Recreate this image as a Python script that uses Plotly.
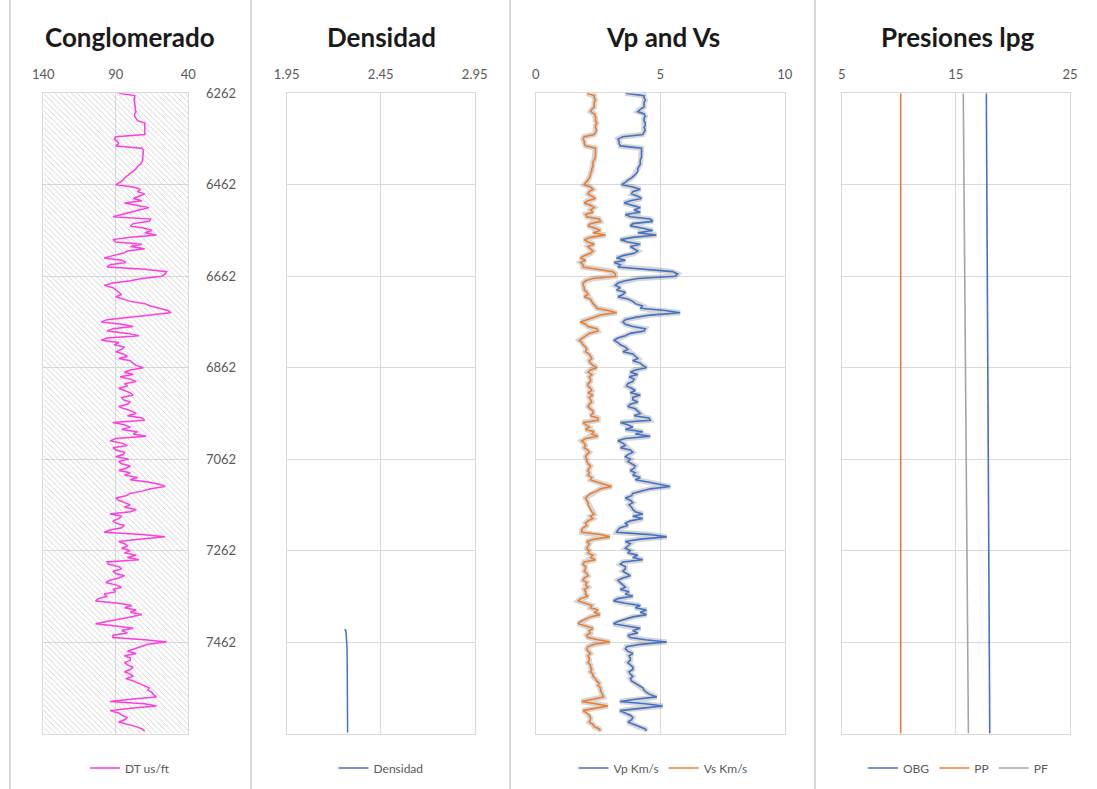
import plotly.graph_objects as go

# ---------------- data ----------------
DEPTH_RANGE = [6262, 7662]
DEPTH_TICKS = [6262, 6462, 6662, 6862, 7062, 7262, 7462]

DEPTH = list(range(6262, 7658, 5))   # 5-ft sampling, 6262 .. 7657

DT = [88, 77, 77, 77.5, 77, 77, 77, 76.5, 76, 77, 77, 76, 75, 70, 70, 70, 70, 70.5, 70, 90,
      91, 89, 88, 90, 72, 71, 71, 71, 71, 71.5, 72, 73, 75, 76, 78, 80, 82, 84, 85, 88,
      90, 78, 73, 75, 70, 74, 78, 72, 84, 76, 67, 74, 80, 88, 92, 66, 67, 78, 80, 70,
      65, 70, 62, 80, 92, 90, 72, 80, 70, 82, 85, 92, 98, 86, 83, 94, 96, 70, 55, 56,
      58, 72, 80, 92, 98, 92, 90, 88, 86, 90, 84, 80, 70, 66, 60, 54, 52, 68, 80, 96,
      100, 86, 78, 92, 96, 82, 74, 96, 100, 88, 91, 84, 86, 90, 85, 82, 88, 80, 78, 76,
      71, 80, 84, 78, 87, 80, 76, 84, 82, 88, 84, 80, 78, 86, 85, 80, 82, 88, 84, 79,
      76, 82, 72, 70, 92, 84, 80, 86, 75, 78, 69, 90, 94, 86, 82, 92, 90, 84, 85, 90,
      81, 88, 86, 80, 83, 88, 80, 84, 75, 80, 68, 60, 56, 66, 72, 80, 83, 90, 88, 84,
      80, 84, 76, 80, 94, 86, 88, 92, 90, 84, 86, 94, 98, 72, 56, 74, 88, 84, 82, 86,
      80, 84, 76, 82, 74, 96, 95, 88, 86, 92, 90, 84, 88, 94, 97, 90, 86, 92, 90, 98,
      96, 102, 104, 88, 79, 84, 76, 80, 72, 80, 88, 96, 104, 90, 78, 86, 82, 92, 92, 70,
      55, 68, 73, 78, 82, 76, 84, 80, 80, 84, 82, 78, 80, 84, 80, 78, 83, 78, 74, 70,
      67, 68, 65, 64, 62, 80, 94, 70, 62, 80, 94, 88, 86, 82, 84, 88, 82, 76, 72, 70]

VP = [3.6, 4.35, 4.35, 4.4, 4.35, 4.35, 4.35, 4.2, 4.1, 4.35, 4.4, 4.35, 4.35, 4.4, 4.4, 4.35, 4.4, 4.35, 4.3, 3.5,
      3.3, 3.35, 3.35, 3.4, 4.25, 4.25, 4.25, 4.25, 4.25, 4.2, 4.2, 4.2, 4.15, 4.1, 4.1, 4.05, 3.95, 3.85, 3.7, 3.6,
      3.45, 3.9, 4.2, 3.9, 3.85, 4.1, 4.25, 3.8, 3.55, 3.9, 4.2, 3.95, 4.2, 3.6, 3.8, 4.6, 4.7, 3.9, 3.8, 4.3,
      4.7, 4.1, 4.85, 3.9, 3.4, 3.7, 4.2, 3.8, 3.95, 4.1, 3.95, 3.5, 3.25, 3.6, 3.15, 3.4, 3.3, 4.6, 5.5, 5.7,
      5.6, 4.1, 3.6, 3.3, 3.2, 3.4, 3.25, 3.6, 3.5, 3.3, 3.7, 3.9, 4.0, 4.3, 4.2, 5.2, 5.8, 4.6, 4.0, 3.6,
      3.5, 3.6, 3.9, 4.4, 4.35, 3.8, 3.6, 3.3, 3.15, 3.3, 3.4, 3.6, 3.7, 3.5, 3.9, 4.0, 4.1, 3.9, 4.2, 4.3,
      4.45, 4.0, 3.8, 4.1, 3.75, 3.95, 3.9, 3.7, 3.65, 3.85, 4.0, 3.8, 4.2, 3.9, 3.9, 4.1, 3.8, 3.7, 4.0, 4.1,
      4.2, 3.95, 4.55, 4.6, 3.4, 3.7, 3.9, 3.6, 4.3, 4.0, 4.6, 3.6, 3.3, 3.5, 3.6, 3.4, 3.8, 3.9, 3.7, 3.6,
      3.8, 3.7, 3.85, 4.0, 3.95, 3.8, 4.0, 3.9, 4.2, 4.0, 4.5, 5.0, 5.4, 4.6, 4.3, 3.9, 3.85, 3.6, 3.8, 3.9,
      3.75, 3.85, 3.9, 4.0, 4.3, 3.9, 4.3, 3.8, 3.6, 3.7, 3.4, 3.3, 3.25, 4.6, 5.26, 4.2, 3.6, 3.8, 3.7, 3.6,
      3.8, 3.7, 4.1, 3.9, 4.3, 3.5, 3.4, 3.6, 3.6, 3.5, 3.65, 3.8, 3.5, 3.3, 3.4, 3.5, 3.6, 3.4, 3.75, 3.6,
      3.9, 3.3, 3.12, 3.6, 4.2, 4.0, 4.45, 4.2, 4.45, 3.9, 3.6, 3.3, 3.12, 3.6, 4.2, 3.9, 4.1, 3.7, 3.8, 4.4,
      5.26, 4.2, 3.65, 3.6, 3.7, 3.9, 3.75, 3.8, 3.8, 3.7, 3.8, 3.9, 3.9, 3.75, 3.8, 3.9, 3.8, 3.85, 4.0, 4.15,
      4.3, 4.35, 4.45, 4.6, 4.86, 4.0, 3.38, 4.4, 5.1, 4.2, 3.38, 3.6, 3.8, 3.9, 3.85, 3.7, 3.93, 4.1, 4.4, 4.45]

VS = [2.05, 2.35, 2.35, 2.4, 2.35, 2.35, 2.35, 2.25, 2.2, 2.35, 2.4, 2.4, 2.4, 2.45, 2.4, 2.4, 2.45, 2.4, 2.35, 1.95,
      1.9, 1.95, 1.95, 2.0, 2.4, 2.4, 2.4, 2.4, 2.4, 2.35, 2.3, 2.3, 2.3, 2.25, 2.25, 2.2, 2.2, 2.15, 2.1, 2.0,
      1.95, 2.2, 2.3, 2.15, 2.1, 2.25, 2.4, 2.1, 1.95, 2.2, 2.35, 2.2, 2.3, 2.0, 2.05, 2.55, 2.6, 2.2, 2.1, 2.4,
      2.6, 2.3, 2.8, 2.2, 1.95, 2.1, 2.35, 2.1, 2.2, 2.3, 2.2, 1.95, 1.8, 2.0, 1.8, 1.9, 1.9, 2.6, 3.1, 3.2,
      3.2, 2.3, 2.0, 1.9, 1.9, 1.95, 1.95, 2.05, 2.1, 1.95, 2.2, 2.25, 2.3, 2.4, 2.45, 2.9, 3.25, 2.6, 2.3, 2.0,
      1.8, 2.0, 2.1, 2.45, 2.5, 2.15, 2.0, 1.85, 1.75, 1.85, 1.9, 2.0, 2.05, 2.0, 2.15, 2.2, 2.25, 2.15, 2.2, 2.3,
      2.45, 2.2, 2.1, 2.25, 2.15, 2.2, 2.2, 2.1, 2.1, 2.2, 2.25, 2.1, 2.3, 2.15, 2.2, 2.25, 2.15, 2.1, 2.2, 2.3,
      2.3, 2.2, 2.5, 2.5, 1.9, 2.05, 2.15, 2.0, 2.35, 2.25, 2.5, 2.0, 1.85, 1.95, 2.0, 1.95, 2.1, 2.15, 2.05, 2.0,
      2.05, 2.05, 2.1, 2.2, 2.15, 2.1, 2.15, 2.1, 2.25, 2.2, 2.45, 2.8, 3.05, 2.6, 2.45, 2.2, 2.1, 2.0, 2.05, 2.1,
      2.1, 2.15, 2.2, 2.25, 2.35, 2.2, 2.3, 2.1, 2.0, 2.05, 1.9, 1.85, 1.85, 2.6, 2.98, 2.35, 2.05, 2.15, 2.1, 2.05,
      2.15, 2.1, 2.3, 2.2, 2.4, 1.95, 1.9, 2.0, 2.0, 1.95, 2.05, 2.1, 1.95, 1.9, 2.05, 2.0, 2.1, 1.95, 2.0, 2.0,
      2.1, 1.8, 1.71, 2.0, 2.25, 2.2, 2.5, 2.35, 2.58, 2.2, 2.0, 1.8, 1.71, 2.0, 2.3, 2.15, 2.2, 2.05, 2.1, 2.5,
      2.98, 2.35, 2.1, 2.05, 2.1, 2.2, 2.1, 2.15, 2.15, 2.1, 2.2, 2.2, 2.25, 2.2, 2.3, 2.3, 2.4, 2.45, 2.55, 2.5,
      2.6, 2.6, 2.65, 2.7, 2.72, 2.3, 1.84, 2.4, 2.9, 2.35, 1.9, 2.05, 2.15, 2.2, 2.2, 2.15, 2.3, 2.35, 2.55, 2.6]

DEPTH_RHOB = [7434, 7437, 7443, 7461, 7476, 7520, 7580, 7660]
RHOB = [2.258, 2.264, 2.266, 2.269, 2.271, 2.272, 2.273, 2.274]

DEPTH_P = [6262, 7662]
OBG = [17.67, 17.97]
PP = [10.17, 10.17]
PF = [15.65, 16.1]

DT_RANGE = [140, 40]
DT_TICKS = [140, 90, 40]
RHOB_RANGE = [1.95, 2.95]
RHOB_TICKS = [1.95, 2.45, 2.95]
V_RANGE = [0, 10]
V_TICKS = [0, 5, 10]
P_RANGE = [5, 25]
P_TICKS = [5, 15, 25]

TITLES = ["Conglomerado", "Densidad", "Vp and Vs", "Presiones lpg"]

# ---------------- styling ----------------
W, H = 1097, 789
GRID = "#d9d9d9"
TICKC = "#595959"
FONT = "Lato"
MAGENTA = "#FF3CDC"
BLUE = "#4472C4"
ORANGE = "#ED7D31"
GREY = "#A5A5A5"

ydom = [1 - 733.5 / H, 1 - 93.3 / H]
xdoms = [[43.3 / W, 188.3 / W], [286.7 / W, 474.7 / W],
         [535.7 / W, 784.7 / W], [841.7 / W, 1070 / W]]
title_x = [130, 381, 663, 958]
sep_x = [10, 251, 510, 815]

fig = go.Figure()

# hatched background of the first track
fig.add_trace(go.Scatter(
    x=[DT_RANGE[0], DT_RANGE[1], DT_RANGE[1], DT_RANGE[0], DT_RANGE[0]],
    y=[DEPTH_RANGE[0], DEPTH_RANGE[0], DEPTH_RANGE[1], DEPTH_RANGE[1], DEPTH_RANGE[0]],
    fill="toself", mode="lines", line=dict(width=0),
    fillcolor="rgba(0,0,0,0)",
    fillpattern=dict(shape="\\", fgcolor="#c8c8c8", size=4, solidity=0.2, fillmode="replace"),
    showlegend=False, hoverinfo="skip", xaxis="x", yaxis="y"))

fig.add_trace(go.Scatter(x=DT, y=DEPTH, mode="lines", name="DT us/ft",
                         line=dict(color=MAGENTA, width=1.5),
                         xaxis="x", yaxis="y", legend="legend"))

fig.add_trace(go.Scatter(x=RHOB, y=DEPTH_RHOB, mode="lines", name="Densidad",
                         line=dict(color=BLUE, width=1.5),
                         xaxis="x2", yaxis="y2", legend="legend2"))

# soft shadows under Vp / Vs
for vals in (VP, VS):
    fig.add_trace(go.Scatter(x=vals, y=DEPTH, mode="lines",
                             line=dict(color="rgba(0,0,0,0.16)", width=5.5),
                             showlegend=False, hoverinfo="skip",
                             xaxis="x3", yaxis="y3"))
fig.add_trace(go.Scatter(x=VP, y=DEPTH, mode="lines", name="Vp Km/s",
                         line=dict(color=BLUE, width=1.6),
                         xaxis="x3", yaxis="y3", legend="legend3"))
fig.add_trace(go.Scatter(x=VS, y=DEPTH, mode="lines", name="Vs Km/s",
                         line=dict(color=ORANGE, width=1.6),
                         xaxis="x3", yaxis="y3", legend="legend3"))

fig.add_trace(go.Scatter(x=OBG, y=DEPTH_P, mode="lines", name="OBG",
                         line=dict(color=BLUE, width=1.6),
                         xaxis="x4", yaxis="y4", legend="legend4"))
fig.add_trace(go.Scatter(x=PP, y=DEPTH_P, mode="lines", name="PP",
                         line=dict(color=ORANGE, width=1.6),
                         xaxis="x4", yaxis="y4", legend="legend4"))
fig.add_trace(go.Scatter(x=PF, y=DEPTH_P, mode="lines", name="PF",
                         line=dict(color=GREY, width=1.6),
                         xaxis="x4", yaxis="y4", legend="legend4"))

xranges = [DT_RANGE, RHOB_RANGE, V_RANGE, P_RANGE]
xticks = [DT_TICKS, RHOB_TICKS, V_TICKS, P_TICKS]

layout = dict(
    width=W, height=H, margin=dict(l=0, r=0, t=0, b=0, autoexpand=False),
    paper_bgcolor="white", plot_bgcolor="white",
    font=dict(family=FONT, size=13, color=TICKC),
    hovermode=False,
)

for i in range(4):
    sfx = "" if i == 0 else str(i + 1)
    layout["xaxis" + sfx] = dict(
        domain=xdoms[i], range=xranges[i], tickvals=xticks[i],
        ticktext=[("%g" % t) for t in xticks[i]],
        side="top", anchor="y" + sfx, showgrid=True, gridcolor=GRID, gridwidth=1,
        showline=True, linecolor=GRID, linewidth=1, mirror=True, automargin=False,
        zeroline=False, ticks="", ticklabelstandoff=8,
        tickfont=dict(family=FONT, size=13, color=TICKC))
    layout["yaxis" + sfx] = dict(
        domain=ydom, range=[DEPTH_RANGE[1], DEPTH_RANGE[0]], tickvals=DEPTH_TICKS,
        anchor="x" + sfx, side="right", showgrid=True, gridcolor=GRID, gridwidth=1,
        showline=True, linecolor=GRID, linewidth=1, mirror=True, automargin=False,
        zeroline=False, ticks="", showticklabels=(i == 0), ticklabelstandoff=14,
        tickfont=dict(family=FONT, size=13, color=TICKC))

legend_y = 1 - 768 / H
for i in range(4):
    key = "legend" if i == 0 else "legend" + str(i + 1)
    layout[key] = dict(x=title_x[i] / W, xanchor="center", y=legend_y, yanchor="middle",
                       orientation="h", bgcolor="rgba(0,0,0,0)",
                       font=dict(family=FONT, size=12, color=TICKC),
                       itemwidth=30, tracegroupgap=0)

layout["annotations"] = [
    dict(text="<b>%s</b>" % TITLES[i], x=title_x[i] / W, y=1 - 37 / H,
         xref="paper", yref="paper", showarrow=False, xanchor="center", yanchor="middle",
         font=dict(family=FONT, size=26, color="#1a1a1a"))
    for i in range(4)
]
layout["shapes"] = [
    dict(type="line", xref="paper", yref="paper", x0=sx / W, x1=sx / W, y0=0, y1=1,
         line=dict(color=GRID, width=2))
    for sx in sep_x
]

fig.update_layout(**layout)
fig.write_html("out.html")
